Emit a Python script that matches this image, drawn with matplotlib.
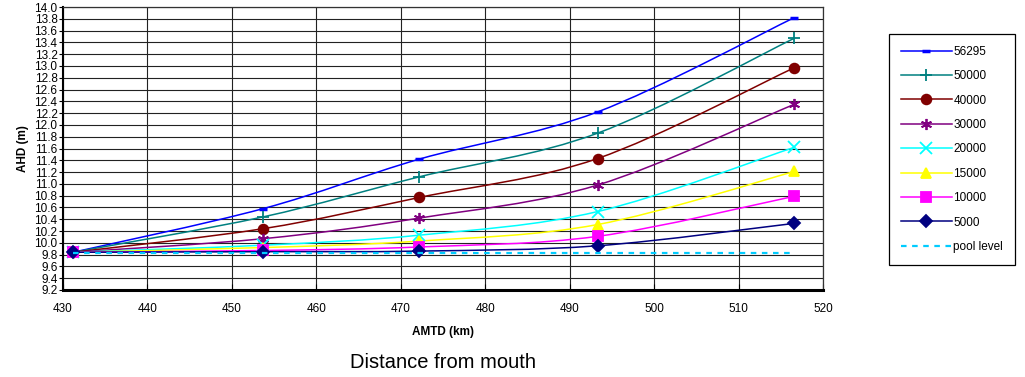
import numpy as np
import matplotlib.pyplot as plt
from matplotlib.path import Path
from matplotlib.patches import PathPatch
from matplotlib.lines import Line2D

plt.rcParams['font.family'] = ['Liberation Sans', 'DejaVu Sans']

# distance from mouth (AMTD, km)
amtd = [431.2, 453.7, 472.2, 493.3, 516.6]

# water level (AHD, m) for each flow
flows = ['56295', '50000', '40000', '30000', '20000', '15000', '10000', '5000']
ahd_56295 = [9.84, 10.58, 11.42, 12.22, 13.82]
ahd_50000 = [9.84, 10.44, 11.12, 11.86, 13.47]
ahd_40000 = [9.84, 10.24, 10.77, 11.43, 12.97]
ahd_30000 = [9.84, 10.07, 10.42, 10.98, 12.35]
ahd_20000 = [9.84, 9.96, 10.13, 10.53, 11.62]
ahd_15000 = [9.84, 9.92, 10.03, 10.31, 11.21]
ahd_10000 = [9.84, 9.87, 9.93, 10.11, 10.79]
ahd_5000 = [9.84, 9.85, 9.86, 9.95, 10.33]
pool_level = 9.82

levels = [ahd_56295, ahd_50000, ahd_40000, ahd_30000,
          ahd_20000, ahd_15000, ahd_10000, ahd_5000]

colors = ['#0000FF', '#008080', '#800000', '#800080',
          '#00FFFF', '#FFFF00', '#FF00FF', '#000080']
markers = ['_', '+', 'o', (6, 2, 0), 'x', '^', 's', 'D']
msizes = [6, 8, 7, 8, 8, 7, 7, 6]


def smooth_path(xs, ys):
    # excel style smoothed line: catmull-rom as cubic beziers
    p = np.column_stack([xs, ys]).astype(float)
    pp = np.vstack([p[0], p, p[-1]])
    verts = [p[0]]
    codes = [Path.MOVETO]
    for i in range(1, len(pp) - 2):
        c1 = pp[i] + (pp[i + 1] - pp[i - 1]) / 6
        c2 = pp[i + 1] - (pp[i + 2] - pp[i]) / 6
        verts += [c1, c2, pp[i + 1]]
        codes += [Path.CURVE4] * 3
    return Path(verts, codes)


fig = plt.figure(figsize=(10.25, 3.77), dpi=100)
ax = fig.add_axes([63 / 1025, 1 - 290 / 377, 760 / 1025, 283 / 377])

handles = []
for lab, ys, c, m, ms in zip(flows, levels, colors, markers, msizes):
    ax.add_patch(PathPatch(smooth_path(amtd, ys), facecolor='none',
                           edgecolor=c, lw=1.1, zorder=3))
    mew = 2.5 if m == '_' else 1.3
    ax.plot(amtd, ys, linestyle='none', marker=m, color=c, ms=ms,
            mew=mew, zorder=4)
    handles.append(Line2D([], [], color=c, lw=1.1, marker=m, ms=ms,
                          mew=mew, label=lab))

ax.plot([amtd[0], amtd[-1]], [pool_level, pool_level], color='#00CCFF',
        lw=1.6, linestyle=(0, (2.5, 2.5)), zorder=5)
handles.append(Line2D([], [], color='#00CCFF', lw=1.6,
                      linestyle=(0, (2.5, 2.5)), label='pool level'))

ax.set_xlim(430, 520)
ax.set_ylim(9.2, 14.0)
ax.set_xticks(np.arange(430, 521, 10))
ax.set_yticks(np.arange(9.2, 14.01, 0.2))
ax.yaxis.set_major_formatter(plt.FormatStrFormatter('%.1f'))
ax.grid(True, color='#222222', lw=0.8)
ax.set_axisbelow(True)

ax.tick_params(axis='y', labelsize=8.5, length=3, pad=1)
ax.tick_params(axis='x', labelsize=8.5, length=4, pad=9, direction='in')
for s in ['top', 'right']:
    ax.spines[s].set_color('#333333')
    ax.spines[s].set_linewidth(0.9)
ax.spines['bottom'].set_linewidth(2.2)
ax.spines['left'].set_linewidth(1.5)

ax.set_ylabel('AHD (m)', fontsize=8.5, fontweight='bold', labelpad=4)
ax.set_xlabel('AMTD (km)', fontsize=8.5, fontweight='bold', labelpad=8)
fig.text(443 / 1025, 1 - 362 / 377, 'Distance from mouth', fontsize=14.5,
         ha='center', va='center')

leg = fig.legend(handles=handles, loc='upper left',
                 bbox_to_anchor=(889 / 1025, 1 - 34 / 377), fontsize=8.5,
                 handlelength=4.3, handletextpad=0.15, labelspacing=1.05,
                 borderpad=1.0, borderaxespad=0, fancybox=False,
                 framealpha=1)
leg.get_frame().set_edgecolor('black')
leg.get_frame().set_linewidth(0.9)

fig.savefig('out.png', dpi=100)
